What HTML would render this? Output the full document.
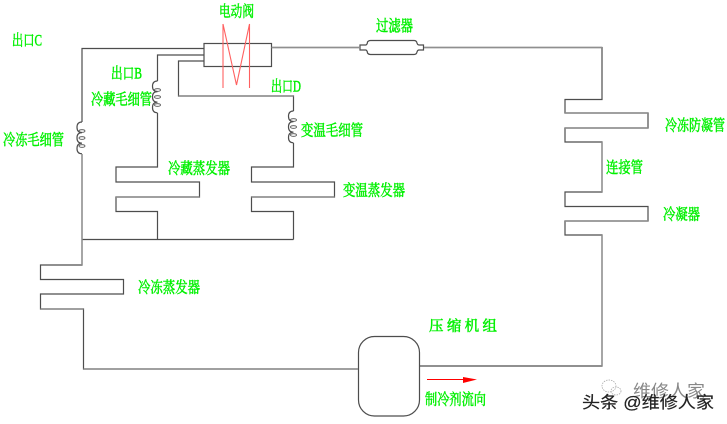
<!DOCTYPE html>
<html><head><meta charset="utf-8"><style>
html,body{margin:0;padding:0;background:#fff;width:727px;height:424px;overflow:hidden}
svg{display:block}
.g text{font-family:"Liberation Serif","Noto Serif CJK SC",serif;font-size:15.500px;fill:#00f000;stroke:#00f000;stroke-width:.5}
.w{font-family:"Liberation Sans","Noto Sans CJK SC",sans-serif}
</style></head><body>
<svg width="727" height="424" viewBox="0 0 727 424" xmlns="http://www.w3.org/2000/svg">
<g fill="none" stroke="#4d4d4d" stroke-width="1.200">
<!-- outer left circuit -->
<path d="M204 48.500H82V122M82 154V265H40.500V279.500H123.500V294H40.500V309H83.500V369H358"/>
<path d="M82 239.500H293.500"/>
<!-- refrigerator branch -->
<path d="M204 55H157.500V81M157.500 113V167H116V182H199.500V197H116V211.500H157.500V239.500"/>
<!-- variable branch -->
<path d="M204 61H178.500V96H293.500V111M293.500 143V167H251.500V182H334.500V197H251.500V211.500H293.500V239.500"/>
<!-- coils -->
<path d="M82 122q-5 0-5 5.300q0 5.300 5 5.300q-5 0-5 5.300q0 5.300 5 5.300q-5 0-5 5.300q0 5.300 5 5.300"/>
<path d="M157.500 81q-5 0-5 5.300q0 5.300 5 5.300q-5 0-5 5.300q0 5.300 5 5.300q-5 0-5 5.300q0 5.300 5 5.300"/>
<path d="M293.500 111q-5 0-5 5.300q0 5.300 5 5.300q-5 0-5 5.300q0 5.300 5 5.300q-5 0-5 5.300q0 5.300 5 5.300"/>
<g stroke-width=".8">
<ellipse cx="82" cy="131" rx="3" ry="1.300"/><ellipse cx="82" cy="138" rx="3" ry="1.300"/><ellipse cx="82" cy="146" rx="3" ry="1.300"/>
<ellipse cx="157.500" cy="90" rx="3" ry="1.300"/><ellipse cx="157.500" cy="97" rx="3" ry="1.300"/><ellipse cx="157.500" cy="105" rx="3" ry="1.300"/>
<ellipse cx="293.500" cy="120" rx="3" ry="1.300"/><ellipse cx="293.500" cy="127" rx="3" ry="1.300"/><ellipse cx="293.500" cy="135" rx="3" ry="1.300"/>
</g>
<!-- valve -->
<rect x="204" y="43.500" width="67.500" height="23"/>
<!-- filter line and right circuit -->
<path d="M271.500 47.500H360M424 47.500H602V99.500H565V113H648V128H565V142H602V192H565V206.500H648V221H565V235H602V366H419.500"/>
<path d="M360 47.500V45H366q1.500-1 1.500-3q1-1.500 3-1.500H414q2.500 0 3 2.500q.5 2 2 2h4.500v5h-4.500q-1.500 0-2 2q-.5 2.500-3 2.500H370.500q-2 0-3-1.500q0-2-1.500-3H360Z"/>
<!-- compressor -->
<rect x="358.500" y="336.500" width="61" height="79.500" rx="16" ry="16"/>
</g>
<!-- lighter, heavier grey segments -->
<g fill="none" stroke="#8f8f8f" stroke-width="1.400">
<path d="M565 113H648M565 128H648M602 142V192M565 221H648M602 235V366"/>
<path d="M40.500 309H83.500M83.500 369H358M82 154V265M178.500 96H293.500M116 197H199.500M251.500 197H334.500M271.500 47.500H360M424 47.500H602"/>
</g>
<!-- red valve symbol -->
<path d="M223 24V88M223 24L236.500 85L249.500 24V88" fill="none" stroke="#ff6060" stroke-width="1.100"/>
<!-- flow arrow -->
<path d="M427 379.500H464" stroke="#f00" stroke-width="1"/>
<path d="M463 377L477 379.500L463 383Z" fill="#f00"/>
<!-- green labels -->
<g class="g">
<text x="12" y="45.500" textLength="30" lengthAdjust="spacingAndGlyphs">出口C</text>
<text x="111" y="78.500" textLength="31" lengthAdjust="spacingAndGlyphs">出口B</text>
<text x="91" y="104.500" textLength="61" lengthAdjust="spacingAndGlyphs">冷藏毛细管</text>
<text x="3" y="145" textLength="61" lengthAdjust="spacingAndGlyphs">冷冻毛细管</text>
<text x="219" y="16.500" textLength="35" lengthAdjust="spacingAndGlyphs">电动阀</text>
<text x="376" y="31" textLength="37" lengthAdjust="spacingAndGlyphs">过滤器</text>
<text x="271" y="91.500" textLength="30" lengthAdjust="spacingAndGlyphs">出口D</text>
<text x="301" y="135.500" textLength="62" lengthAdjust="spacingAndGlyphs">变温毛细管</text>
<text x="168" y="173.500" textLength="62" lengthAdjust="spacingAndGlyphs">冷藏蒸发器</text>
<text x="343" y="195.500" textLength="62" lengthAdjust="spacingAndGlyphs">变温蒸发器</text>
<text x="665" y="130.500" textLength="60" lengthAdjust="spacingAndGlyphs">冷冻防凝管</text>
<text x="606" y="172.500" textLength="37" lengthAdjust="spacingAndGlyphs">连接管</text>
<text x="663" y="219.500" textLength="37" lengthAdjust="spacingAndGlyphs">冷凝器</text>
<text x="138" y="292.500" textLength="62" lengthAdjust="spacingAndGlyphs">冷冻蒸发器</text>
<text x="429" y="331" textLength="68" lengthAdjust="spacing" style="font-size:14.500px">压缩机组</text>
<text x="425" y="404.500" textLength="61" lengthAdjust="spacingAndGlyphs">制冷剂流向</text>
</g>
<!-- watermark -->
<g fill="none" stroke="#aaa" stroke-width=".8" stroke-dasharray="1.500 1">
<ellipse cx="609" cy="386" rx="7" ry="6"/><ellipse cx="616" cy="391" rx="5" ry="4"/>
</g>
<text class="w" x="633" y="397" font-size="17" fill="#888" textLength="72" lengthAdjust="spacingAndGlyphs">维修人家</text>
<text class="w" x="582" y="408" font-size="16.500" fill="#222" stroke="#222" stroke-width=".2" textLength="132" lengthAdjust="spacingAndGlyphs">头条 @维修人家</text>
</svg>
</body></html>
